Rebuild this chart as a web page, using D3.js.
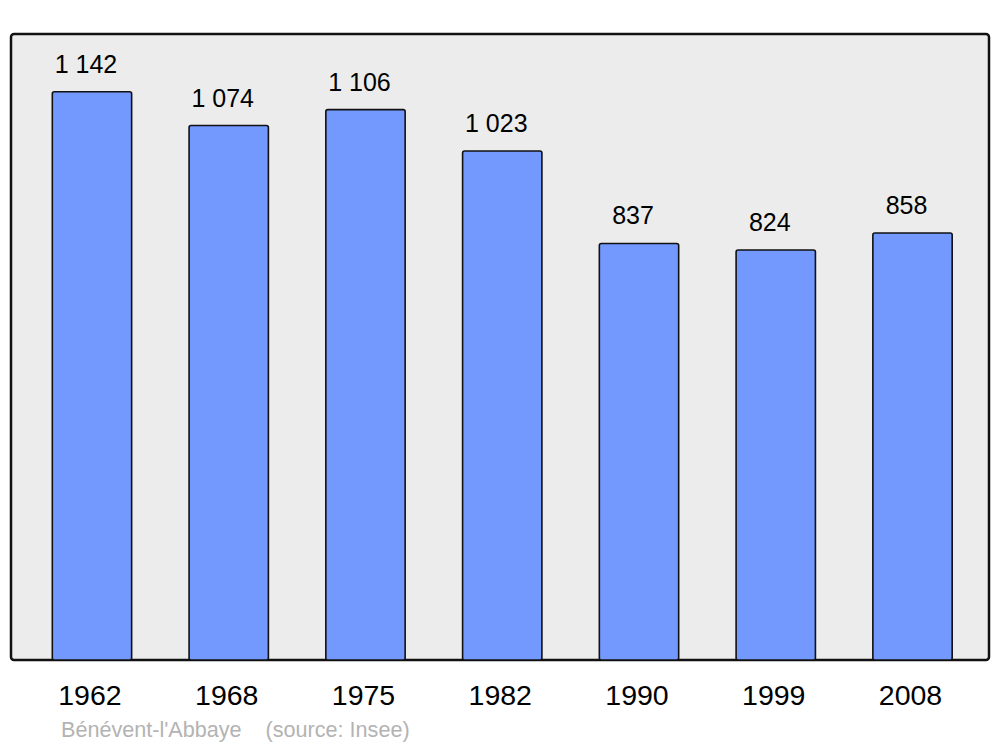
<!DOCTYPE html>
<html>
<head>
<meta charset="utf-8">
<script src="https://cdn.jsdelivr.net/npm/d3@7"></script>
<style>
  body { margin: 0; background: #fff; }
  text { font-family: "Liberation Sans", Arial, sans-serif; }
</style>
</head>
<body>
<div class="chart"></div>
<script>
// data
var years = ["1962", "1968", "1975", "1982", "1990", "1999", "2008"];
var population = [1142, 1074, 1106, 1023, 837, 824, 858];
var valueLabels = ["1 142", "1 074", "1 106", "1 023", "837", "824", "858"];
var caption = "Bénévent-l'Abbaye    (source: Insee)";

var width = 1000, height = 747;

var svg = d3.select(".chart").append("svg")
    .attr("width", width)
    .attr("height", height);

// panel
svg.append("rect")
    .attr("x", 11).attr("y", 34)
    .attr("width", 978).attr("height", 626)
    .attr("rx", 3).attr("ry", 3)
    .style("fill", "#ececec")
    .style("stroke", "#111")
    .style("stroke-width", 2.5);

// scales
var x = d3.scaleBand()
    .domain(years)
    .range([23.6, 980.9])
    .paddingInner(0.42)
    .paddingOuter(0.21);
var y = d3.scaleLinear()
    .domain([0, 1258])
    .range([660, 34]);

var data = years.map(function(d, i) {
  return {year: d, nb: population[i], label: valueLabels[i]};
});

// bars
svg.selectAll(".bar")
    .data(data)
    .enter().append("rect")
      .attr("class", "bar")
      .attr("x", function(d) { return x(d.year); })
      .attr("width", x.bandwidth())
      .attr("y", function(d) { return y(d.nb); })
      .attr("height", function(d) { return y(0) - y(d.nb); })
      .attr("rx", 2).attr("ry", 2)
      .style("fill", "#7399ff")
      .style("stroke", "#111")
      .style("stroke-width", 1.6);

// value labels
svg.selectAll(".val")
    .data(data)
    .enter().append("text")
      .attr("class", "val")
      .attr("x", function(d) { return x(d.year) + x.bandwidth() / 2 - 6; })
      .attr("y", function(d) { return y(d.nb) - 19; })
      .attr("text-anchor", "middle")
      .style("font-size", "25px")
      .style("fill", "#000")
      .text(function(d) { return d.label; });

// x axis labels
svg.selectAll(".year")
    .data(data)
    .enter().append("text")
      .attr("class", "year")
      .attr("x", function(d) { return x(d.year) + x.bandwidth() / 2 - 2; })
      .attr("y", 705)
      .attr("text-anchor", "middle")
      .style("font-size", "28.5px")
      .style("fill", "#000")
      .text(function(d) { return d.year; });

// caption
svg.append("text")
    .attr("x", 61)
    .attr("y", 737)
    .style("font-size", "21.6px")
    .style("fill", "#b3b3b3")
    .style("white-space", "pre")
    .attr("xml:space", "preserve")
    .text(caption);
</script>
</body>
</html>
